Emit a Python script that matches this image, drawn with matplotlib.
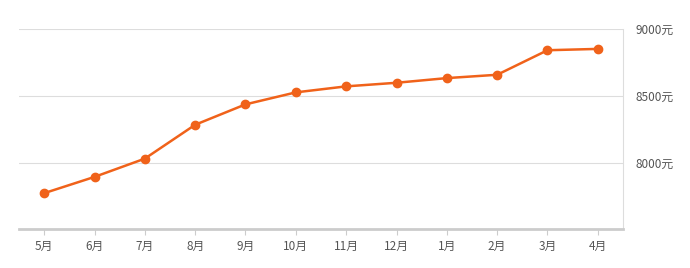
import matplotlib
matplotlib.use("Agg")
import matplotlib.pyplot as plt

plt.rcParams['font.family'] = ['Noto Sans CJK SC', 'DejaVu Sans']

months = ["5月", "6月", "7月", "8月", "9月", "10月", "11月", "12月", "1月", "2月", "3月", "4月"]
prices = [7771, 7893, 8030, 8284, 8437, 8527, 8572, 8599, 8634, 8659, 8843, 8853]
yticks = [8000, 8500, 9000]
ytick_labels = ["8000元", "8500元", "9000元"]

fig = plt.figure(figsize=(6.9, 2.68), dpi=100)
ax = fig.add_axes([19/690, (268-229.3)/268, (623-19)/690, (229.3-29.3)/268])

x = list(range(len(months)))
ax.plot(x, prices, color="#f0621a", lw=1.8, marker="o", ms=6, zorder=3, clip_on=False)

ax.set_xlim(-0.5, len(months) - 0.5)
ax.set_ylim(7500, 9000)
ax.set_yticks(yticks)
ax.set_yticklabels(ytick_labels)
ax.yaxis.tick_right()
ax.tick_params(axis='y', length=0, pad=9, labelsize=8.5, labelcolor="#555555")
ax.set_xticks(x)
ax.set_xticklabels(months)
ax.tick_params(axis='x', length=4, width=0.8, color="#cccccc", pad=4, labelsize=8.5, labelcolor="#555555")
ax.grid(axis='y', color="#dddddd", lw=0.8)
ax.set_axisbelow(True)

for s in ['top', 'left']:
    ax.spines[s].set_visible(False)
ax.spines['right'].set_color("#dddddd")
ax.spines['right'].set_linewidth(0.8)
ax.spines['bottom'].set_color("#cccccc")
ax.spines['bottom'].set_linewidth(2)

fig.savefig("out.png", dpi=100, facecolor="white")
